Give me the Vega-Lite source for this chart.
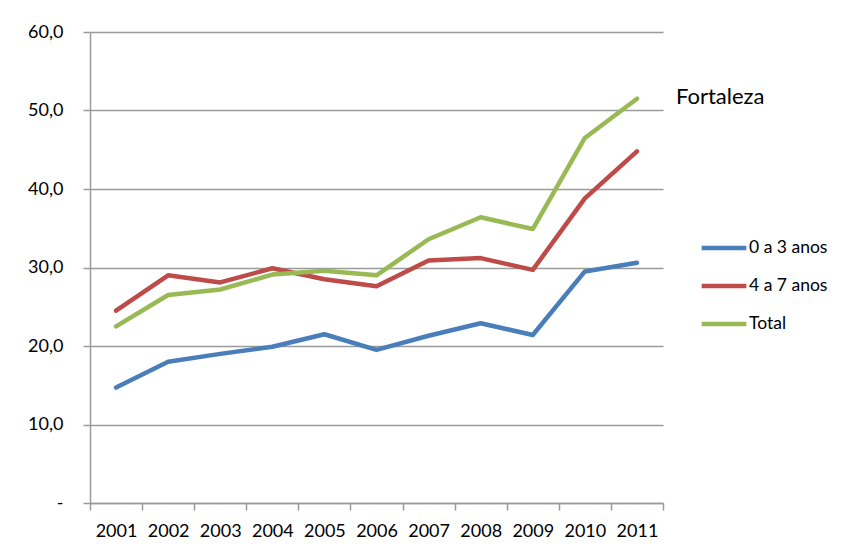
{
  "$schema": "https://vega.github.io/schema/vega-lite/v6.json",
  "width": 573,
  "height": 471,
  "autosize": {"type": "none"},
  "padding": {"left": 90, "top": 32, "right": 180, "bottom": 50},
  "background": "white",
  "config": {
    "font": "Lato",
    "view": {"stroke": null},
    "axis": {"labelFont": "Lato", "labelColor": "#000000", "domainColor": "#9a9a9a", "tickColor": "#9a9a9a", "domainWidth": 1.5, "tickWidth": 1.5, "gridColor": "#9a9a9a", "gridWidth": 1.5}
  },
  "data": {
    "values": [
      {"ano": "2001", "serie": "0 a 3 anos", "valor": 14.7},
      {"ano": "2002", "serie": "0 a 3 anos", "valor": 18.0},
      {"ano": "2003", "serie": "0 a 3 anos", "valor": 19.0},
      {"ano": "2004", "serie": "0 a 3 anos", "valor": 19.9},
      {"ano": "2005", "serie": "0 a 3 anos", "valor": 21.5},
      {"ano": "2006", "serie": "0 a 3 anos", "valor": 19.5},
      {"ano": "2007", "serie": "0 a 3 anos", "valor": 21.3},
      {"ano": "2008", "serie": "0 a 3 anos", "valor": 22.9},
      {"ano": "2009", "serie": "0 a 3 anos", "valor": 21.4},
      {"ano": "2010", "serie": "0 a 3 anos", "valor": 29.5},
      {"ano": "2011", "serie": "0 a 3 anos", "valor": 30.6},
      {"ano": "2001", "serie": "4 a 7 anos", "valor": 24.5},
      {"ano": "2002", "serie": "4 a 7 anos", "valor": 29.0},
      {"ano": "2003", "serie": "4 a 7 anos", "valor": 28.1},
      {"ano": "2004", "serie": "4 a 7 anos", "valor": 29.9},
      {"ano": "2005", "serie": "4 a 7 anos", "valor": 28.5},
      {"ano": "2006", "serie": "4 a 7 anos", "valor": 27.6},
      {"ano": "2007", "serie": "4 a 7 anos", "valor": 30.9},
      {"ano": "2008", "serie": "4 a 7 anos", "valor": 31.2},
      {"ano": "2009", "serie": "4 a 7 anos", "valor": 29.7},
      {"ano": "2010", "serie": "4 a 7 anos", "valor": 38.8},
      {"ano": "2011", "serie": "4 a 7 anos", "valor": 44.8},
      {"ano": "2001", "serie": "Total", "valor": 22.5},
      {"ano": "2002", "serie": "Total", "valor": 26.5},
      {"ano": "2003", "serie": "Total", "valor": 27.2},
      {"ano": "2004", "serie": "Total", "valor": 29.1},
      {"ano": "2005", "serie": "Total", "valor": 29.6},
      {"ano": "2006", "serie": "Total", "valor": 29.0},
      {"ano": "2007", "serie": "Total", "valor": 33.6},
      {"ano": "2008", "serie": "Total", "valor": 36.4},
      {"ano": "2009", "serie": "Total", "valor": 34.9},
      {"ano": "2010", "serie": "Total", "valor": 46.5},
      {"ano": "2011", "serie": "Total", "valor": 51.5, "rotulo": "Fortaleza"}
    ]
  },
  "encoding": {
    "x": {
      "field": "ano", "type": "ordinal",
      "scale": {"type": "band", "paddingInner": 0, "paddingOuter": 0},
      "axis": {"title": null, "labelAngle": 0, "labelFontSize": 18, "labelPadding": 12, "tickBand": "extent", "tickSize": 7, "grid": false}
    },
    "y": {
      "field": "valor", "type": "quantitative",
      "scale": {"domain": [0, 60], "nice": false},
      "axis": {"title": null, "values": [0, 10, 20, 30, 40, 50, 60], "grid": true, "tickSize": 7, "labelPadding": 20, "labelFontSize": 18,
        "labelExpr": "datum.value == 0 ? '-' : replace(format(datum.value, '.1f'), '.', ',')"}
    }
  },
  "layer": [
    {
      "mark": {"type": "line", "strokeWidth": 4.5, "strokeCap": "round", "strokeJoin": "round"},
      "encoding": {
        "color": {
          "field": "serie", "type": "nominal",
          "scale": {"domain": ["0 a 3 anos", "4 a 7 anos", "Total"], "range": ["#4a7ebb", "#be4b48", "#98b954"]},
          "legend": {"title": null, "orient": "none", "legendX": 609, "legendY": 191, "symbolType": "stroke", "symbolSize": 2000, "symbolStrokeWidth": 4.5, "labelFontSize": 17.5, "labelFont": "Lato", "labelOffset": 0, "rowPadding": 4, "labelColor": "#000000"}
        }
      }
    },
    {
      "transform": [{"filter": "datum.rotulo != null"}],
      "mark": {"type": "text", "align": "left", "baseline": "middle", "dx": 39, "dy": -2, "fontSize": 22, "font": "Lato", "color": "#000000"},
      "encoding": {"text": {"field": "rotulo"}}
    }
  ]
}
